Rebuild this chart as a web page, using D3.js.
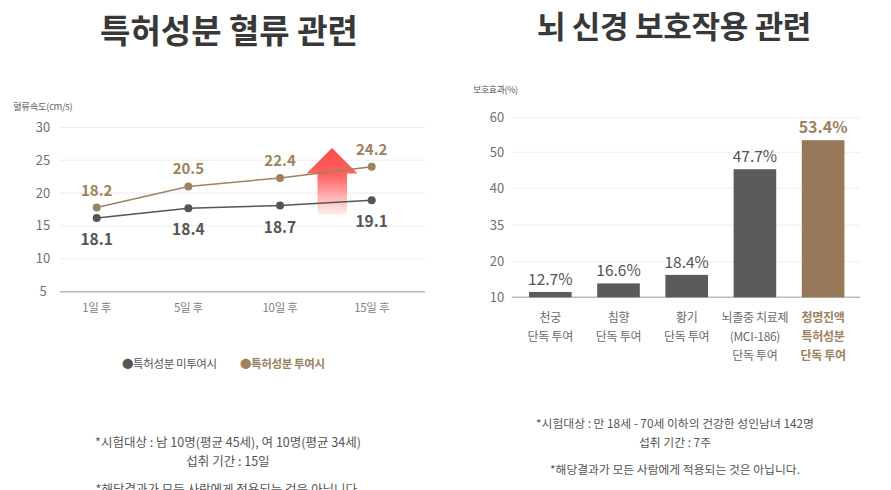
<!DOCTYPE html>
<html>
<head>
<meta charset="utf-8">
<script src="https://cdn.jsdelivr.net/npm/d3@7"></script>
<style>
  body { margin: 0; background: #fff; }
  svg text { font-family: "Noto Sans CJK KR", "Noto Sans", sans-serif; }
</style>
</head>
<body>
<svg id="chart" width="891" height="490"></svg>
<script>
// ---- left chart: blood flow ----
var days = ["1일 후", "5일 후", "10일 후", "15일 후"];
var untreated = [16.2, 17.7, 18.1, 18.9];          // where the points sit
var untreatedLabels = ["18.1", "18.4", "18.7", "19.1"];
var treated = [17.8, 21.0, 22.3, 24.0];
var treatedLabels = ["18.2", "20.5", "22.4", "24.2"];
var flowTicks = [5, 10, 15, 20, 25, 30];

// ---- right chart: nerve protection ----
var groups = ["천궁", "침향", "황기", "뇌졸중", "청명진액"];
var groupLines = [
  ["천궁", "단독 투여"],
  ["침향", "단독 투여"],
  ["황기", "단독 투여"],
  ["뇌졸중 치료제", "(MCI-186)", "단독 투여"],
  ["청명진액", "특허성분", "단독 투여"]
];
var effect = [11.5, 13.9, 16.3, 45.3, 53.5];     // bar heights on the axis
var effectLabels = ["12.7%", "16.6%", "18.4%", "47.7%", "53.4%"];
var effectTicks = [10, 20, 35, 40, 50, 60];

var gold = "#9d8260", goldBar = "#97795a", dark = "#555", darkBar = "#5b5b5b";

var svg = d3.select("#chart");

// titles
svg.append("text").attr("x", 229).attr("y", 43).attr("text-anchor", "middle")
  .attr("font-size", 33).attr("font-weight", 700).attr("fill", "#383838")
  .text("특허성분 혈류 관련");
svg.append("text").attr("x", 674).attr("y", 38).attr("text-anchor", "middle")
  .attr("font-size", 31).attr("font-weight", 700).attr("fill", "#383838")
  .attr("letter-spacing", -0.3)
  .text("뇌 신경 보호작용 관련");

// ================= left chart =================
var left = svg.append("g");
var y1 = d3.scaleLinear().domain([5, 30]).range([291.7, 127.3]);
var x1 = d3.scalePoint().domain(days).range([96.7, 371.7]);

left.selectAll(".grid").data(flowTicks).enter().append("line")
  .attr("x1", 60).attr("x2", 425)
  .attr("y1", function (d) { return y1(d); })
  .attr("y2", function (d) { return y1(d); })
  .attr("stroke", function (d) { return d === 5 ? "#b8b8b8" : "#ececec"; })
  .attr("stroke-width", function (d) { return d === 5 ? 1.5 : 1; });

left.selectAll(".ytick").data(flowTicks).enter().append("text")
  .attr("x", 43).attr("y", function (d) { return y1(d); })
  .attr("dy", "0.35em").attr("text-anchor", "middle")
  .attr("font-size", 13).attr("fill", "#707070")
  .text(function (d) { return d; });

left.append("text").attr("x", 13).attr("y", 110)
  .attr("font-size", 9.5).attr("fill", "#666").attr("letter-spacing", -0.4)
  .text("혈류속도(cm/s)");

left.selectAll(".xtick").data(days).enter().append("text")
  .attr("x", function (d) { return x1(d); }).attr("y", 312)
  .attr("text-anchor", "middle").attr("font-size", 11.5).attr("fill", "#808080")
  .attr("letter-spacing", -0.3)
  .text(function (d) { return d; });

// red arrow (decoration)
var defs = svg.append("defs");
var grad = defs.append("linearGradient").attr("id", "arrowGrad")
  .attr("gradientUnits", "userSpaceOnUse")
  .attr("x1", 0).attr("y1", 148).attr("x2", 0).attr("y2", 215);
grad.append("stop").attr("offset", 0).attr("stop-color", "#ff4b4b");
grad.append("stop").attr("offset", 0.4).attr("stop-color", "#ff6161");
grad.append("stop").attr("offset", 1).attr("stop-color", "#fff2f2");
left.append("path")
  .attr("d", "M332,148 L357.5,173.5 L347,173.5 L347,215 L317.5,215 L317.5,173.5 L306.5,173.5 Z")
  .attr("fill", "url(#arrowGrad)");

var line = d3.line()
  .x(function (d, i) { return x1(days[i]); })
  .y(function (d) { return y1(d); });

[[untreated, dark], [treated, gold]].forEach(function (s) {
  left.append("path").datum(s[0]).attr("d", line)
    .attr("fill", "none").attr("stroke", s[1]).attr("stroke-width", 1.5);
  left.selectAll(null).data(s[0]).enter().append("circle")
    .attr("cx", function (d, i) { return x1(days[i]); })
    .attr("cy", function (d) { return y1(d); })
    .attr("r", 4).attr("fill", s[1]);
});

left.selectAll(".tl").data(treated).enter().append("text")
  .attr("x", function (d, i) { return x1(days[i]); })
  .attr("y", function (d) { return y1(d) - 12; })
  .attr("text-anchor", "middle").attr("font-size", 15).attr("font-weight", 600)
  .attr("fill", gold)
  .text(function (d, i) { return treatedLabels[i]; });

left.selectAll(".ul").data(untreated).enter().append("text")
  .attr("x", function (d, i) { return x1(days[i]); })
  .attr("y", function (d) { return y1(d) + 27; })
  .attr("text-anchor", "middle").attr("font-size", 15.5).attr("font-weight", 700)
  .attr("fill", dark)
  .text(function (d, i) { return untreatedLabels[i]; });

// legend
left.append("text").attr("x", 122).attr("y", 368).attr("font-size", 11.5)
  .attr("fill", "#555").attr("letter-spacing", -0.4).text("●특허성분 미투여시");
left.append("text").attr("x", 240).attr("y", 368).attr("font-size", 11.5)
  .attr("font-weight", 600).attr("fill", gold).attr("letter-spacing", -0.4)
  .text("●특허성분 투여시");

// notes
var leftNotes = [
  ["*시험대상 : 남 10명(평균 45세), 여 10명(평균 34세)", 447],
  ["섭취 기간 : 15일", 466],
  ["*해당결과가 모든 사람에게 적용되는 것은 아닙니다.", 494]
];
left.selectAll(".note").data(leftNotes).enter().append("text")
  .attr("x", 228).attr("y", function (d) { return d[1]; })
  .attr("text-anchor", "middle").attr("font-size", 12.5).attr("fill", "#555")
  .text(function (d) { return d[0]; });

// ================= right chart =================
var right = svg.append("g");
var y2 = d3.scaleLinear().domain(effectTicks)
  .range([297.3, 261.7, 225, 188.3, 152.3, 117.7]);
var x2 = d3.scaleBand().domain(groups).range([516.2, 857.2])
  .paddingInner(0.375).paddingOuter(0.1875);

right.selectAll(".grid").data(effectTicks).enter().append("line")
  .attr("x1", 511.7).attr("x2", 860)
  .attr("y1", function (d) { return y2(d); })
  .attr("y2", function (d) { return y2(d); })
  .attr("stroke", function (d) { return d === 10 ? "#bcbcbc" : "#eeeeee"; })
  .attr("stroke-width", function (d) { return d === 10 ? 1.5 : 1; });

right.selectAll(".ytick").data(effectTicks).enter().append("text")
  .attr("x", 497).attr("y", function (d) { return y2(d); })
  .attr("dy", "0.35em").attr("text-anchor", "middle")
  .attr("font-size", 13).attr("fill", "#707070")
  .text(function (d) { return d; });

right.append("text").attr("x", 473).attr("y", 93)
  .attr("font-size", 9).attr("fill", "#555").attr("letter-spacing", -0.4)
  .text("보호효과(%)");

right.selectAll(".bar").data(effect).enter().append("rect")
  .attr("x", function (d, i) { return x2(groups[i]); })
  .attr("width", x2.bandwidth())
  .attr("y", function (d) { return y2(d); })
  .attr("height", function (d) { return y2(10) - y2(d); })
  .attr("fill", function (d, i) { return i === 4 ? goldBar : darkBar; });

right.selectAll(".val").data(effect).enter().append("text")
  .attr("x", function (d, i) { return x2(groups[i]) + x2.bandwidth() / 2; })
  .attr("y", function (d) { return y2(d) - 7; })
  .attr("text-anchor", "middle")
  .attr("font-size", function (d, i) { return i === 4 ? 16 : 15.5; })
  .attr("font-weight", function (d, i) { return i === 4 ? 700 : 400; })
  .attr("fill", function (d, i) { return i === 4 ? gold : dark; })
  .text(function (d, i) { return effectLabels[i]; });

groupLines.forEach(function (lines, i) {
  var t = right.append("text")
    .attr("x", x2(groups[i]) + x2.bandwidth() / 2)
    .attr("text-anchor", "middle").attr("font-size", 12)
    .attr("letter-spacing", -0.3)
    .attr("font-weight", i === 4 ? 700 : 400)
    .attr("fill", i === 4 ? gold : "#6a6a6a");
  lines.forEach(function (s, j) {
    t.append("tspan").attr("x", x2(groups[i]) + x2.bandwidth() / 2)
      .attr("y", 322 + j * 19).text(s);
  });
});

var rightNotes = [
  ["*시험대상 : 만 18세 - 70세 이하의 건강한 성인남녀 142명", 428],
  ["섭취 기간 : 7주", 447],
  ["*해당결과가 모든 사람에게 적용되는 것은 아닙니다.", 474]
];
right.selectAll(".note").data(rightNotes).enter().append("text")
  .attr("x", 675).attr("y", function (d) { return d[1]; })
  .attr("text-anchor", "middle").attr("font-size", 11.8).attr("fill", "#555")
  .text(function (d) { return d[0]; });
</script>
</body>
</html>
